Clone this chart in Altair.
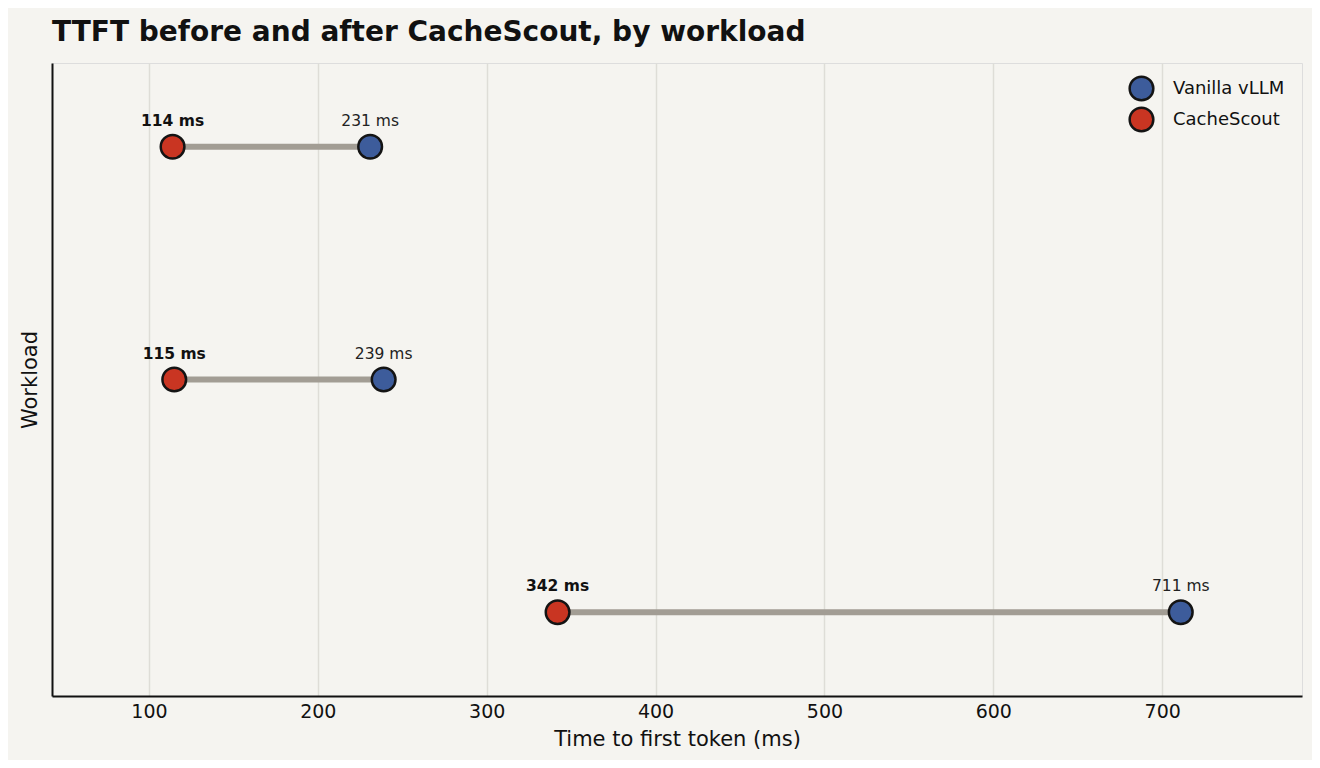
import altair as alt
import pandas as pd

workloads = ["W1", "W2", "W3"]
vanilla_ms = [231, 239, 711]
cachescout_ms = [114, 115, 342]

series = ["Vanilla vLLM", "CacheScout"]
series_colors = ["#3d5c9b", "#c93522"]

wide = pd.DataFrame({"workload": workloads, "vanilla": vanilla_ms, "cachescout": cachescout_ms})
long = pd.concat(
    [
        pd.DataFrame({"workload": workloads, "ms": vanilla_ms, "series": "Vanilla vLLM"}),
        pd.DataFrame({"workload": workloads, "ms": cachescout_ms, "series": "CacheScout"}),
    ],
    ignore_index=True,
)
long["label"] = long["ms"].astype(str) + " ms"

x_scale = alt.Scale(domain=[42.6, 782.8], nice=False, zero=False)
y_enc = alt.Y(
    "workload:N",
    sort=workloads,
    scale=alt.Scale(type="point", padding=0.36),
    axis=alt.Axis(labels=False, ticks=False, grid=False, title="Workload",
                  domainColor="#111111", domainWidth=2, titlePadding=12,
                  titleFontSize=21, titleFontWeight="normal", titleColor="#111111"),
)

base = alt.Chart(long)

# connecting bar between the two measurements
rule = (
    alt.Chart(wide)
    .mark_rule(color="#a29d94", strokeWidth=6)
    .encode(
        x=alt.X("cachescout:Q", scale=x_scale),
        x2="vanilla:Q",
        y=y_enc,
    )
)

points = base.mark_point(filled=True, size=560, stroke="#141414", strokeWidth=2.5, opacity=1).encode(
    x=alt.X(
        "ms:Q",
        scale=x_scale,
        axis=alt.Axis(title="Time to first token (ms)", values=[100, 200, 300, 400, 500, 600, 700],
                      ticks=False, labelPadding=6, labelFontSize=19, labelColor="#111111",
                      titleFontSize=21, titleFontWeight="normal", titleColor="#111111", titlePadding=7,
                      domainColor="#111111", domainWidth=2, gridColor="#deddd7", gridWidth=1.5),
    ),
    y=y_enc,
    color=alt.Color(
        "series:N",
        scale=alt.Scale(domain=series, range=series_colors),
        legend=alt.Legend(title=None, orient="none", legendX=1076, legendY=12, labelFontSize=18,
                          labelColor="#111111", symbolSize=560, symbolStrokeColor="#141414",
                          symbolStrokeWidth=2.5, rowPadding=-16, labelOffset=18),
    ),
)

labels_vanilla = base.transform_filter(alt.datum.series == "Vanilla vLLM").mark_text(
    dy=-26, fontSize=15.5, color="#222222"
).encode(x=alt.X("ms:Q", scale=x_scale), y=y_enc, text="label:N")

labels_cs = base.transform_filter(alt.datum.series == "CacheScout").mark_text(
    dy=-26, fontSize=15.5, fontWeight="bold", color="#111111"
).encode(x=alt.X("ms:Q", scale=x_scale), y=y_enc, text="label:N")

chart = (
    alt.layer(rule, points, labels_vanilla, labels_cs)
    .properties(
        width=1250,
        height=633,
        autosize=alt.AutoSizeParams(type="none"),
        padding={"left": 44, "top": 55, "right": 10, "bottom": 64},
        background="#f5f4f0",
        title=alt.Title("TTFT before and after CacheScout, by workload", anchor="start", frame="group",
                        fontSize=28, fontWeight="bold", color="#111111", offset=16),
    )
    .configure_view(stroke=None)
    .configure(font="DejaVu Sans")
    .configure_axisY(grid=False)
)

chart.save("out.html", embed_options={"renderer": "svg", "actions": False})
